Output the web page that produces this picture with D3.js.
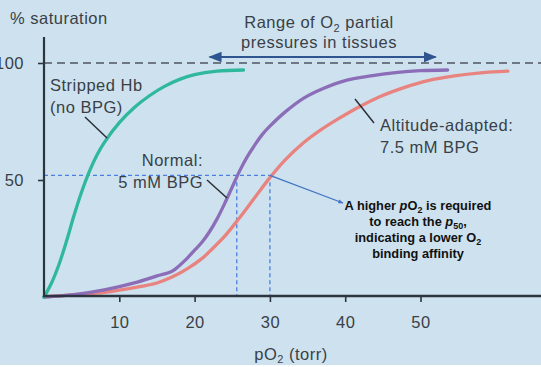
<!DOCTYPE html>
<html><head><meta charset="utf-8">
<script src="https://cdn.jsdelivr.net/npm/d3@7"></script>
<style>
html,body{margin:0;padding:0;background:#fff;}
svg{display:block;}
text{font-family:"Liberation Sans",Arial,Helvetica,sans-serif;}
</style></head>
<body><svg id="c" width="541" height="367"></svg>
<script>
// ---- data ----
const xTicks = [10, 20, 30, 40, 50];
const yTicks = [50, 100];
const strippedPO2 = [0, 1, 2, 3, 4, 5, 6, 7, 8, 10, 12, 14, 16, 18, 20, 23, 26.5];
const strippedSat = [0, 6, 14, 24, 35, 45, 53.5, 60.5, 66, 74.5, 81, 86, 90, 93, 95, 96.5, 97];
const normalPO2 = [0, 4, 8, 12, 15, 17, 18, 19, 20, 21, 22, 23, 24, 25, 26, 27, 28, 29, 30, 32, 34.5, 37, 40, 43.4, 47, 50, 53.6];
const normalSat = [0, 1, 3, 6, 9, 11, 13.5, 16.5, 20, 23.5, 28, 33.5, 40, 47, 54, 60, 65, 69.5, 73, 79, 85, 89, 92.5, 94.5, 96, 96.7, 97];
const altitudePO2 = [0, 4, 8, 12, 15, 17, 19, 21, 22, 24, 26, 28, 30, 32, 34.5, 36.8, 39, 41.7, 44.5, 47.8, 51, 54.5, 58, 61.6];
const altitudeSat = [0, 1, 2, 4, 6, 8.5, 12, 16.5, 19.5, 26, 34, 42.5, 51, 58.5, 66, 71.5, 76, 81, 85.5, 89.5, 92.5, 94.5, 95.8, 96.5];
const p50Level = 52;
const p50Normal = 25.6;
const p50Altitude = 30;
const tissueRange = [22, 52];

// ---- scales ----
const svg = d3.select("#c");
const x = d3.scaleLinear().domain([0, 66]).range([44, 541]);
const y = d3.scaleLinear().domain([0, 100]).range([297, 63]);
const axisCol = "#2c3440";
const textCol = "#3a3f47";

svg.append("rect").attr("width", 541).attr("height", 365).attr("fill", "#cde2ee");

svg.append("defs").html(`
<marker id="ah" viewBox="0 0 10 10" refX="9" refY="5" markerWidth="6" markerHeight="6" orient="auto-start-reverse">
<path d="M0,1 L10,5 L0,9 Z" fill="#2f5590"/></marker>
<marker id="ab" viewBox="0 0 10 10" refX="9" refY="5" markerWidth="4" markerHeight="4" orient="auto">
<path d="M0,1 L10,5 L0,9 Z" fill="#4472c4"/></marker>`);

// 100% reference dashed line
svg.append("line").attr("x1", x(0)).attr("x2", 541).attr("y1", y(100)).attr("y2", y(100))
  .attr("stroke", "#4d5560").attr("stroke-width", 1.6).attr("stroke-dasharray", "8,5");

// tissue range arrow
svg.append("line").attr("x1", x(tissueRange[0])).attr("x2", x(tissueRange[1]))
  .attr("y1", 57).attr("y2", 57).attr("stroke", "#2f5590").attr("stroke-width", 2.2)
  .attr("marker-start", "url(#ah)").attr("marker-end", "url(#ah)");

// axes
const xAxis = d3.axisBottom(x).tickValues(xTicks).tickSize(6).tickPadding(14);
const gx = svg.append("g").attr("transform", `translate(0,${y(0)-1})`).call(xAxis);
gx.select(".domain").remove();
gx.selectAll(".tick line").attr("stroke", axisCol).attr("stroke-width", 1.6);
gx.selectAll(".tick text").attr("fill", textCol).attr("font-size", 16.5).style("letter-spacing", "0.5px")
  .attr("font-family", "Liberation Sans, Arial, sans-serif");

const yAxis = d3.axisLeft(y).tickValues(yTicks).tickSize(6).tickPadding(14);
const gy = svg.append("g").attr("transform", `translate(${x(0)},0)`).call(yAxis);
gy.select(".domain").remove();
gy.selectAll(".tick line").attr("stroke", axisCol).attr("stroke-width", 1.6);
gy.selectAll(".tick text").attr("fill", textCol).attr("font-size", 16.5).style("letter-spacing", "0.5px")
  .attr("font-family", "Liberation Sans, Arial, sans-serif");

// p50 guides
const blue = "#4a7fe0";
svg.append("line").attr("x1", x(0)).attr("x2", x(p50Altitude)).attr("y1", y(p50Level)).attr("y2", y(p50Level))
  .attr("stroke", blue).attr("stroke-width", 1.3).attr("stroke-dasharray", "4,3");
[p50Normal, p50Altitude].forEach(v => {
  svg.append("line").attr("x1", x(v)).attr("x2", x(v)).attr("y1", y(p50Level)).attr("y2", y(0))
    .attr("stroke", blue).attr("stroke-width", 1.3).attr("stroke-dasharray", "4,3");
});

// curves
const line = d3.line().x(d => x(d[0])).y(d => y(d[1])).curve(d3.curveCatmullRom.alpha(0.5));
const curves = [
  {p: altitudePO2, s: altitudeSat, c: "#e9837f"},
  {p: normalPO2, s: normalSat, c: "#8c6db8"},
  {p: strippedPO2, s: strippedSat, c: "#2fb89c"}
];
curves.forEach(cv => {
  svg.append("path").datum(cv.p.map((v, i) => [v, cv.s[i]]))
    .attr("d", line).attr("fill", "none").attr("stroke", cv.c)
    .attr("stroke-width", 3.3).attr("stroke-linecap", "round");
});

// axis lines
svg.append("line").attr("x1", x(0)).attr("x2", x(0)).attr("y1", 37).attr("y2", y(0))
  .attr("stroke", axisCol).attr("stroke-width", 2.2);
svg.append("line").attr("x1", x(0) - 1).attr("x2", 541).attr("y1", y(0) - 1).attr("y2", y(0) - 1)
  .attr("stroke", axisCol).attr("stroke-width", 2.4);

// text helper
function txt(xp, yp, anchor, size, weight, color) {
  return svg.append("text").attr("x", xp).attr("y", yp).attr("text-anchor", anchor)
    .attr("font-size", size).attr("font-weight", weight).attr("fill", color)
    .style("letter-spacing", weight === "bold" ? "0px" : "0.5px");
}
txt(10, 24, "start", 16.5, "normal", textCol).text("% saturation");

let t = txt(319, 28, "middle", 16.5, "normal", textCol);
t.append("tspan").text("Range of O");
t.append("tspan").attr("font-size", 11).attr("dy", 4).text("2");
t.append("tspan").attr("dy", -4).text(" partial");
txt(319, 48, "middle", 16.5, "normal", textCol).text("pressures in tissues");

txt(50, 91, "start", 16.5, "normal", textCol).text("Stripped Hb");
txt(50, 113, "start", 16.5, "normal", textCol).text("(no BPG)");
txt(203, 166, "end", 16.5, "normal", textCol).text("Normal:");
txt(203, 188, "end", 16.5, "normal", textCol).text("5 mM BPG");
txt(380, 131, "start", 16.5, "normal", textCol).text("Altitude-adapted:");
txt(380, 153, "start", 16.5, "normal", textCol).text("7.5 mM BPG");

// leader lines
const lead = [[85, 117, 107, 138], [207, 180, 227, 198], [355, 99, 374, 123]];
lead.forEach(l => svg.append("line").attr("x1", l[0]).attr("y1", l[1]).attr("x2", l[2]).attr("y2", l[3])
  .attr("stroke", "#2a2f36").attr("stroke-width", 1.5));

// callout arrow
svg.append("line").attr("x1", x(p50Altitude)).attr("y1", y(p50Level)).attr("x2", 343).attr("y2", 203)
  .attr("stroke", "#4472c4").attr("stroke-width", 1.3).attr("marker-end", "url(#ab)");

const cx = 418, cc = "#111";
t = txt(cx, 210, "middle", 12.8, "bold", cc);
t.append("tspan").text("A higher ");
t.append("tspan").attr("font-style", "italic").text("p");
t.append("tspan").text("O");
t.append("tspan").attr("font-size", 9).attr("dy", 3).text("2");
t.append("tspan").attr("dy", -3).text(" is required");
t = txt(cx, 226, "middle", 12.8, "bold", cc);
t.append("tspan").text("to reach the ");
t.append("tspan").attr("font-style", "italic").text("p");
t.append("tspan").attr("font-size", 9).attr("dy", 3).text("50");
t.append("tspan").attr("dy", -3).text(",");
t = txt(cx, 242, "middle", 12.8, "bold", cc);
t.append("tspan").text("indicating a lower O");
t.append("tspan").attr("font-size", 9).attr("dy", 3).text("2");
txt(cx, 258, "middle", 12.8, "bold", cc).text("binding affinity");

txt(291, 360, "middle", 16.5, "normal", textCol).call(s => {
  s.append("tspan").text("pO");
  s.append("tspan").attr("font-size", 11).attr("dy", 3).text("2");
  s.append("tspan").attr("dy", -3).text(" (torr)");
});
</script></body></html>
